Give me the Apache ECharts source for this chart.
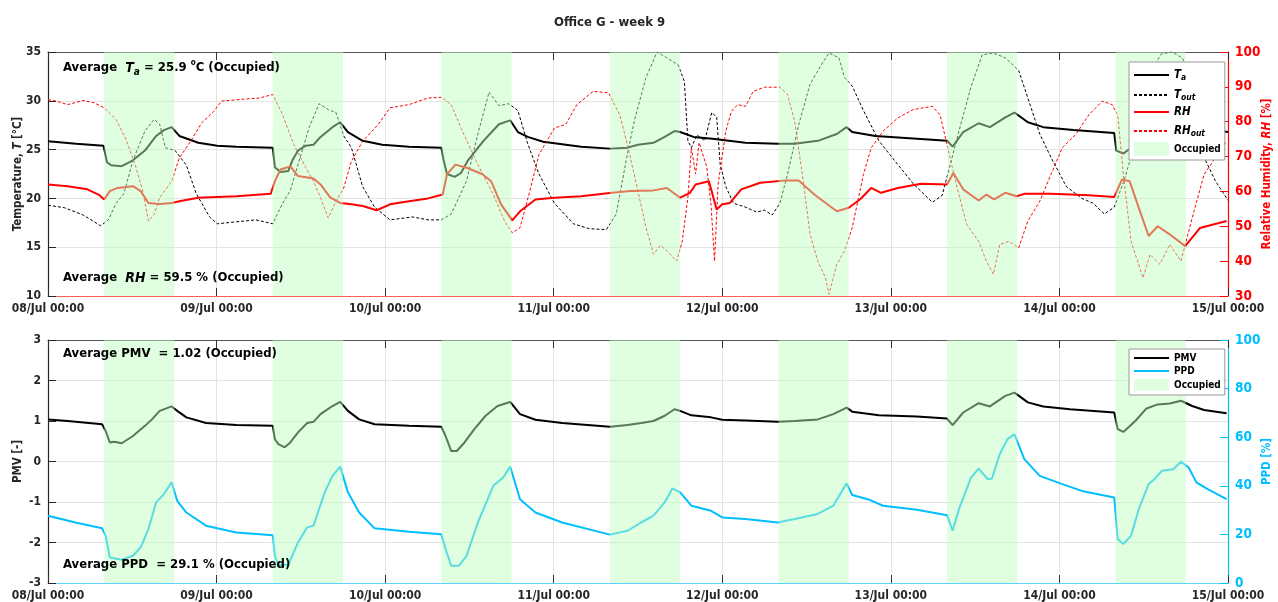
<!DOCTYPE html>
<html>
<head>
<meta charset="utf-8">
<title>Office G - week 9</title>
<script src="https://cdn.jsdelivr.net/npm/echarts@6/dist/echarts.min.js"></script>
<style>
  html, body { margin: 0; padding: 0; background: #ffffff; }
  #chart { width: 1278px; height: 602px; }
</style>
</head>
<body>
<div id="chart"></div>
<script>
// Time runs in hours from 08/Jul 00:00; one tick label per day.
const dayLabels = ['08/Jul 00:00', '09/Jul 00:00', '10/Jul 00:00', '11/Jul 00:00',
                   '12/Jul 00:00', '13/Jul 00:00', '14/Jul 00:00', '15/Jul 00:00'];

// Occupied periods [start hour, end hour]
const occupied = [[8, 18], [32, 42], [56, 66], [80, 90], [104, 114], [128, 138], [152, 162]];

// Indoor air temperature T_a [°C]
const tIndoor = [[0,25.85],[4,25.6],[7.9,25.4],[8.4,23.7],[9,23.4],[10.5,23.3],[12.1,23.9],[13.8,24.9],[15.4,26.4],[16.5,27.0],[17.6,27.3],[18.7,26.4],[21.4,25.7],[24.1,25.4],[26.8,25.3],[32,25.2],[32.3,23.2],[33.1,22.7],[34.2,22.8],[34.8,23.9],[35.6,24.9],[36.7,25.4],[37.8,25.5],[38.8,26.3],[40.5,27.3],[41.6,27.8],[42.7,26.8],[44.8,25.9],[47.6,25.5],[51.4,25.3],[56,25.2],[56.3,24.0],[56.8,22.5],[57.9,22.2],[58.8,22.6],[59.8,23.9],[62,25.9],[64.2,27.6],[65.8,28.0],[66.9,26.8],[68.3,26.3],[70.5,25.8],[75.9,25.3],[80,25.1],[82.5,25.2],[84,25.5],[86.2,25.7],[87.8,26.3],[89.2,26.9],[90,26.8],[91.9,26.3],[94.6,26.1],[99.3,25.7],[103.9,25.6],[106.3,25.6],[109.6,25.9],[112.3,26.6],[113.7,27.3],[114.5,26.8],[117.8,26.4],[122.1,26.2],[128,25.9],[128.8,25.3],[130.3,26.8],[132.5,27.7],[134.1,27.3],[136.3,28.3],[137.6,28.8],[139.5,27.8],[141.7,27.3],[146,27.0],[151.8,26.7],[152.1,24.9],[153.1,24.6],[155,25.6],[156.4,27.0],[158,27.5],[159.7,27.6],[161.3,28.0],[162.5,27.6],[164,27.2],[166,27.0],[168,26.8]];

// Outdoor air temperature T_out [°C]
const tOutdoor = [[0,19.3],[2.3,19.05],[5,18.3],[7.5,17.2],[8.6,17.8],[9.7,19.5],[10.8,20.5],[12.1,23.9],[13.8,26.9],[15.1,28.1],[15.9,27.6],[16.7,25.2],[18.1,24.9],[19.7,23.4],[21.1,20.5],[23,18.1],[24.1,17.4],[26.8,17.6],[29.6,17.8],[32,17.4],[33.4,19.5],[34.5,20.8],[35.6,23.5],[37.2,27.3],[38.6,29.7],[39.9,29.1],[41,28.8],[42.1,26.4],[43.2,25.2],[44.8,21.2],[46.5,19.1],[48.7,17.8],[51.9,18.1],[54.1,17.8],[56,17.8],[57.4,18.4],[59.6,21.8],[61.2,26.6],[62.8,30.9],[64.2,29.5],[65.6,29.7],[66.9,29.0],[68.3,25.6],[69.9,22.5],[72.1,19.5],[74.8,17.4],[77.0,16.9],[79.5,16.8],[80.9,18.4],[82.5,24.6],[83.5,28],[85.1,32.3],[86.7,35.0],[88.1,34.4],[89.7,33.7],[90.6,32.0],[91.1,25.9],[91.6,25.2],[92.4,26.5],[93.5,25.9],[94.5,28.8],[95.2,28.3],[95.7,23.5],[96.5,21.2],[97.6,19.5],[99.3,19.1],[100.9,18.6],[102,18.8],[103.1,18.3],[104.2,19.5],[105.3,22.5],[106.9,27.6],[108.5,31.7],[110.1,33.7],[111.2,34.9],[112.6,34.4],[113.4,32.4],[114.5,31.5],[116.1,29.0],[118.3,25.9],[120.5,23.9],[123.2,21.5],[125.9,19.6],[127.3,20.3],[128.1,22.5],[129.7,26.9],[131.4,31.4],[133,34.7],[134.6,34.9],[136.3,34.4],[138.2,33.1],[139.5,30.3],[141.2,26.6],[142.8,24.2],[145,21.2],[147.2,20.0],[148.8,19.5],[150.4,18.4],[151.8,19.1],[153.2,21.8],[154.5,25],[155.8,29.5],[157,33],[158.5,34.8],[160,35],[161.5,34.4],[162.6,32.5],[163.6,28],[164.6,24.2],[166.2,21.8],[168,19.8]];

// Indoor relative humidity RH [%]
const rhIndoor = [[0,62.0],[2.8,61.5],[5.6,60.6],[7.2,59.1],[8,57.7],[8.8,60.1],[9.9,61.0],[12.1,61.5],[13.2,60.1],[14.3,56.7],[15.9,56.4],[17.6,56.7],[18.7,57.2],[21.4,58.2],[26.8,58.6],[31.7,59.3],[32.3,62.9],[33.1,66.3],[34.5,67.2],[35.6,64.4],[37.8,63.7],[38.8,62.0],[40.2,58.2],[41.6,56.7],[43.2,56.3],[44.8,55.8],[46.8,54.6],[48.7,56.3],[51.4,57.2],[54.1,58.0],[56.2,59.1],[56.8,64.9],[58,67.7],[59.6,66.8],[61.8,65.0],[63.1,62.9],[64.5,56.3],[66.1,51.7],[67.2,54.3],[69.4,57.7],[72.1,58.2],[75.9,58.6],[80.3,59.6],[82.9,60.1],[86.2,60.3],[88.1,61.0],[90,58.2],[91.4,59.6],[92.2,62.0],[94.1,62.9],[95.2,54.8],[96,56.3],[97.1,56.7],[98.7,60.6],[101.4,62.5],[104.7,63.1],[106.9,63.1],[109.1,59.1],[112.3,54.3],[114,55.3],[115.6,57.7],[117.2,61.0],[118.6,59.6],[121,61.0],[124.3,62.2],[128,62.0],[128.9,65.3],[130.3,60.6],[132.5,57.4],[133.6,59.1],[134.7,57.7],[136.3,59.6],[137.9,58.6],[139,59.3],[142.8,59.3],[148.2,58.9],[151.8,58.4],[152.9,63.4],[154,62.9],[155.3,55.3],[156.7,47.2],[158,50.0],[159.7,47.7],[161.9,44.3],[164,49.5],[167.8,51.5]];

// Outdoor relative humidity RH_out [%]
const rhOutdoor = [[0,86.3],[1.2,85.9],[2.8,84.9],[5,86.1],[6.6,85.4],[8,84.0],[9.7,80.6],[11,75.4],[12.4,67.7],[13.5,60.1],[14.3,51.5],[15.1,53.4],[15.9,58.2],[17.6,62.9],[18.7,69.6],[20.3,74.4],[21.9,79.7],[23.6,83.0],[24.7,85.9],[26.8,86.3],[30.1,86.8],[32,87.8],[33.4,82.0],[35,73.4],[36.7,66.8],[37.8,62.9],[38.8,58.2],[39.9,52.4],[41,57.2],[42.1,61.0],[43.2,68.7],[44.8,74.4],[47.0,79.2],[48.7,84.0],[51.4,84.9],[54.1,86.8],[56,87.0],[57.4,84.9],[59.0,77.3],[61.2,67.7],[63.4,59.1],[65.0,51.5],[66.1,48.1],[67.2,49.6],[68.6,60.1],[69.9,70.6],[72.1,78.2],[73.7,79.2],[75.3,84.9],[77.6,88.7],[79.8,88.3],[81.4,82.0],[82.6,72.5],[84,60],[85.1,50],[86.2,42],[87.2,44.5],[88.1,43],[89.5,40.0],[90.3,45.7],[91.1,58.2],[91.6,72.5],[92.2,65],[92.7,74],[93.8,67],[94.4,56],[94.9,40.0],[95.4,62],[96.5,77.3],[97.3,83.0],[98.2,84.9],[99.3,84.4],[100.4,88.7],[102,89.9],[104.2,89.9],[105.3,87.8],[106.3,80.1],[107.4,64.9],[108.5,47.7],[109.6,40.0],[110.7,35.2],[111.2,30.5],[112.3,39.1],[113.4,42.9],[114.5,49.6],[116.1,64.9],[117.2,72.5],[118.9,77.3],[121,81.1],[123.2,83.5],[125.9,84.4],[127,82.0],[128.1,72.5],[129.2,62.9],[130.8,50.5],[132.5,45.7],[133.6,40.0],[134.6,36.2],[135.5,44.8],[136.8,45.7],[138.2,43.8],[139.5,51.5],[141.2,57.2],[142.8,64.9],[144.4,72.5],[146.3,76.3],[148.2,82.0],[150.1,85.9],[151.5,84.9],[152.3,82.0],[153.1,64.9],[154.2,45.7],[155.9,35.2],[156.9,41.9],[158.3,39.1],[159.7,44.8],[161.3,40.0],[162.9,52.4],[164.6,64.9],[166.2,69.6],[167.8,74.4]];

// Predicted mean vote PMV [-]
const pmv = [[0,1.04],[2.8,1.0],[7.7,0.92],[8.2,0.76],[8.8,0.47],[9.4,0.49],[10.5,0.45],[12.1,0.63],[13.8,0.88],[14.8,1.04],[15.9,1.25],[17.6,1.36],[18.4,1.25],[19.7,1.09],[22.5,0.95],[26.8,0.9],[32,0.88],[32.3,0.55],[32.8,0.43],[33.7,0.35],[34.5,0.47],[35.6,0.72],[36.9,0.95],[37.8,0.98],[38.8,1.17],[40.5,1.37],[41.6,1.47],[42.7,1.25],[44.3,1.04],[46.5,0.92],[51.4,0.88],[56,0.86],[56.6,0.63],[57.4,0.26],[58.2,0.26],[59.3,0.47],[60.7,0.8],[62.3,1.13],[64,1.37],[65.8,1.47],[67.2,1.17],[69.4,1.03],[73.2,0.95],[80,0.86],[82.5,0.9],[84.5,0.95],[86.2,1.0],[87.8,1.13],[89.2,1.29],[90,1.25],[91.6,1.14],[94.4,1.09],[96,1.03],[99.3,1.01],[103.9,0.98],[106.3,1.0],[109.6,1.04],[111.8,1.17],[113.7,1.33],[114.5,1.23],[118.3,1.14],[123.7,1.11],[128,1.06],[128.8,0.9],[130.3,1.21],[132.5,1.44],[134.1,1.36],[136.3,1.62],[137.6,1.7],[139.5,1.46],[141.7,1.36],[145.5,1.29],[151.8,1.21],[152.3,0.8],[153.1,0.73],[154.8,1.0],[156.4,1.31],[158,1.41],[159.7,1.43],[161.3,1.5],[162.9,1.37],[164.6,1.27],[167.8,1.19]];

// Predicted percentage dissatisfied PPD [%]
const ppd = [[0,27.7],[3.9,24.9],[7.7,22.5],[8.2,19.5],[8.8,10.5],[10.5,9.6],[12.1,11.2],[13.2,14.7],[14.3,22.2],[15.4,33.2],[16.5,36.6],[17.6,41.4],[18.4,33.8],[19.7,29.0],[22.5,23.6],[26.8,20.8],[32,19.7],[32.3,11.2],[32.8,7.4],[34.2,7.4],[35.6,16.7],[36.9,22.9],[37.8,23.6],[39.4,37.3],[40.5,44.1],[41.6,47.9],[42.7,37.3],[44.3,29.0],[46.5,22.5],[51.4,21.1],[56,20.1],[56.6,14.0],[57.4,7.1],[58.5,7.1],[59.6,11.2],[61.2,24.9],[63.4,40.0],[64.8,43.4],[65.8,47.9],[67.2,34.5],[69.4,29.0],[73.2,24.9],[80,19.9],[82.5,21.5],[84.5,25],[86.2,27.7],[87.8,33.2],[88.9,38.9],[90,37.3],[91.6,31.8],[94.4,29.7],[96,27.0],[99.3,26.3],[103.9,24.9],[106.3,26.3],[109.6,28.4],[111.8,31.8],[113.7,41.0],[114.5,36.2],[116.7,34.5],[118.9,31.8],[123.7,30.1],[128,27.9],[128.8,21.5],[129.7,30.4],[131.4,43.4],[132.5,47.1],[133.8,42.7],[134.4,43.0],[135.5,53.0],[136.6,59.2],[137.6,61.2],[139,51.0],[141.2,44.1],[144.4,40.7],[147.2,37.9],[151.8,35.2],[152.3,18.1],[153.1,16.0],[154.2,19.5],[155.3,30.4],[156.7,40.7],[157.5,42.7],[158.6,46.2],[160.2,46.8],[161.3,49.9],[162.4,47.5],[163.5,41.4],[165.1,38.6],[167.8,34.5]];

const FONT = "'DejaVu Sans Condensed','Liberation Sans Narrow',sans-serif";
const INK = '#262626';
const RED = '#ff0000';
const BLUE = '#00bfff';
const GRID_LINE = '#e4e4e4';
const BAND = 'rgba(190,255,190,0.47)';

const chart = echarts.init(document.getElementById('chart'), null, { renderer: 'canvas' });

function xAxes(gridIndex, baseColor) {
  return [
    {
      gridIndex, type: 'value', min: 0, max: 168, interval: 24, position: 'bottom',
      axisLine: { show: true, onZero: false, lineStyle: { color: baseColor, width: 1.2 } },
      axisTick: { show: true, inside: true, length: 8, lineStyle: { color: '#333333' } },
      axisLabel: {
        show: true, showMaxLabel: true, showMinLabel: true, margin: 7,
        color: INK, fontFamily: FONT, fontWeight: 'bold', fontSize: 12,
        formatter: v => dayLabels[Math.round(v / 24)]
      },
      splitLine: { show: true, lineStyle: { color: GRID_LINE, width: 1 } }
    },
    {
      gridIndex, type: 'value', min: 0, max: 168, interval: 24, position: 'top',
      axisLine: { show: true, onZero: false, lineStyle: { color: '#555555', width: 1 } },
      axisTick: { show: true, inside: true, length: 8, lineStyle: { color: '#333333' } },
      axisLabel: { show: false },
      splitLine: { show: false }
    }
  ];
}

function sideAxis(gridIndex, pos, min, max, interval, color, nameRich, nameGap, split) {
  return {
    gridIndex, type: 'value', position: pos, min, max, interval,
    name: nameRich, nameLocation: 'middle', nameRotate: 90, nameGap,
    nameMoveOverlap: false,
    nameTextStyle: {
      color, fontFamily: FONT, fontWeight: 'bold', fontSize: 11.5,
      rich: {
        b: { color, fontFamily: FONT, fontWeight: 'bold', fontSize: 11.5 },
        i: { color, fontFamily: FONT, fontWeight: 'bold', fontStyle: 'italic', fontSize: 11.5 }
      }
    },
    axisLine: { show: true, onZero: false, lineStyle: { color, width: 1.2 } },
    axisTick: { show: true, inside: true, length: 8, lineStyle: { color } },
    axisLabel: { color, fontFamily: FONT, fontWeight: 'bold', fontSize: pos === 'left' ? 12 : 13.5, margin: 7 },
    splitLine: { show: split, lineStyle: { color: GRID_LINE, width: 1 } }
  };
}

function line(name, data, xi, yi, color, width, dashed) {
  return {
    name, type: 'line', data, xAxisIndex: xi, yAxisIndex: yi,
    symbol: 'none', smooth: false, z: 2, clip: true,
    lineStyle: { color, width, type: dashed ? [3, 2] : 'solid' },
    itemStyle: { color },
    emphasis: { disabled: true }
  };
}

function bandSeries(xi, yi) {
  return {
    name: 'Occupied', type: 'custom', xAxisIndex: xi, yAxisIndex: yi, z: 3,
    data: occupied,
    encode: { x: [0, 1] },
    itemStyle: { color: BAND },
    renderItem: (params, api) => {
      const cs = params.coordSys;
      const x0 = api.coord([api.value(0), 0])[0];
      const x1 = api.coord([api.value(1), 0])[0];
      return {
        type: 'rect',
        shape: { x: x0, y: cs.y, width: x1 - x0, height: cs.height },
        style: { fill: BAND }
      };
    },
    silent: true
  };
}

const legendRich = {
  t: { fontFamily: FONT, fontWeight: 'bold', fontSize: 10, color: '#000', lineHeight: 14 },
  i: { fontFamily: FONT, fontWeight: 'bold', fontStyle: 'italic', fontSize: 11.5, color: '#000', lineHeight: 14 },
  s: { fontFamily: FONT, fontWeight: 'bold', fontStyle: 'italic', fontSize: 8.5, color: '#000', lineHeight: 9, verticalAlign: 'bottom', padding: [7, 0, 0, 0] }
};

const legendNames = {
  'T_a': '{i|T}{s|a}',
  'T_out': '{i|T}{s|out}',
  'RH': '{i|RH}',
  'RH_out': '{i|RH}{s|out}',
  'Occupied': '{t|Occupied}',
  'PMV': '{t|PMV}',
  'PPD': '{t|PPD}'
};

function boxedLegend(data, top, itemHeight, itemGap) {
  return {
    orient: 'vertical', left: 1129, top,
    data: data.map(n => n === 'Occupied'
      ? { name: n, icon: 'rect', itemStyle: { opacity: 1 } }
      : { name: n }),
    itemWidth: 35, itemHeight, itemGap,
    padding: [4, 4, 4, 4],
    itemStyle: { opacity: 0 },
    backgroundColor: '#ffffff', borderColor: '#9a9a9a', borderWidth: 1,
    selectedMode: false,
    formatter: n => legendNames[n],
    textStyle: { fontFamily: FONT, fontWeight: 'bold', fontSize: 10, color: '#000', rich: legendRich },
    z: 10
  };
}

const annRich = {
  n: { fontFamily: FONT, fontWeight: 'bold', fontSize: 13, fill: '#000', lineHeight: 18 },
  i: { fontFamily: FONT, fontWeight: 'bold', fontStyle: 'italic', fontSize: 14, fill: '#000', lineHeight: 18 },
  s: { fontFamily: FONT, fontWeight: 'bold', fontStyle: 'italic', fontSize: 10, fill: '#000', lineHeight: 11, verticalAlign: 'bottom', padding: [9, 0, 0, 0] },
  o: { fontFamily: FONT, fontWeight: 'bold', fontSize: 8, fill: '#000', lineHeight: 8, verticalAlign: 'top', padding: [0, 0, 5, 0] }
};

function annotation(text, top) {
  return {
    type: 'text', left: 63, top, z: 20,
    style: { text, rich: annRich, fill: '#000', font: 'bold 13px ' + FONT }
  };
}

const option = {
  animation: false,
  backgroundColor: '#ffffff',
  textStyle: { fontFamily: FONT },
  title: {
    text: 'Office G - week 9', left: 549, top: 11,
    textStyle: { fontFamily: FONT, fontWeight: 'bold', fontSize: 13, color: INK }
  },
  grid: [
    { left: 48, top: 52, width: 1180, height: 244, outerBoundsMode: 'none', containLabel: false },
    { left: 48, top: 340, width: 1180, height: 243, outerBoundsMode: 'none', containLabel: false }
  ],
  xAxis: [...xAxes(0, '#ff5a5a'), ...xAxes(1, '#5cd2ff')],
  yAxis: [
    sideAxis(0, 'left', 10, 35, 5, INK, '{b|Temperature, }{i|T}{b| [°C]}', 24, true),
    sideAxis(0, 'right', 30, 100, 10, RED, '{b|Relative Humidity, }{i|RH}{b| [%]}', 33, false),
    sideAxis(1, 'left', -3, 3, 1, INK, '{b|PMV [-]}', 24, true),
    sideAxis(1, 'right', 0, 100, 20, BLUE, '{b|PPD [%]}', 33, false)
  ],
  legend: [
    boxedLegend(['T_a', 'T_out', 'RH', 'RH_out', 'Occupied'], 62, 14, 4),
    boxedLegend(['PMV', 'PPD', 'Occupied'], 349, 12, 3)
  ],
  series: [
    line('T_a', tIndoor, 0, 0, '#000000', 2, false),
    line('T_out', tOutdoor, 0, 0, '#000000', 1, true),
    line('RH', rhIndoor, 0, 1, RED, 2, false),
    line('RH_out', rhOutdoor, 0, 1, RED, 1, true),
    bandSeries(0, 0),
    line('PMV', pmv, 2, 2, '#000000', 2, false),
    line('PPD', ppd, 2, 3, BLUE, 2, false),
    bandSeries(2, 2)
  ],
  graphic: [
    annotation('{n|Average  }{i|T}{s|a}{n| = 25.9 }{o|o}{n|C (Occupied)}', 58),
    annotation('{n|Average  }{i|RH}{n| = 59.5 % (Occupied)}', 271),
    annotation('{n|Average PMV  = 1.02 (Occupied)}', 347),
    annotation('{n|Average PPD  = 29.1 % (Occupied)}', 558)
  ]
};

chart.setOption(option);
</script>
</body>
</html>
